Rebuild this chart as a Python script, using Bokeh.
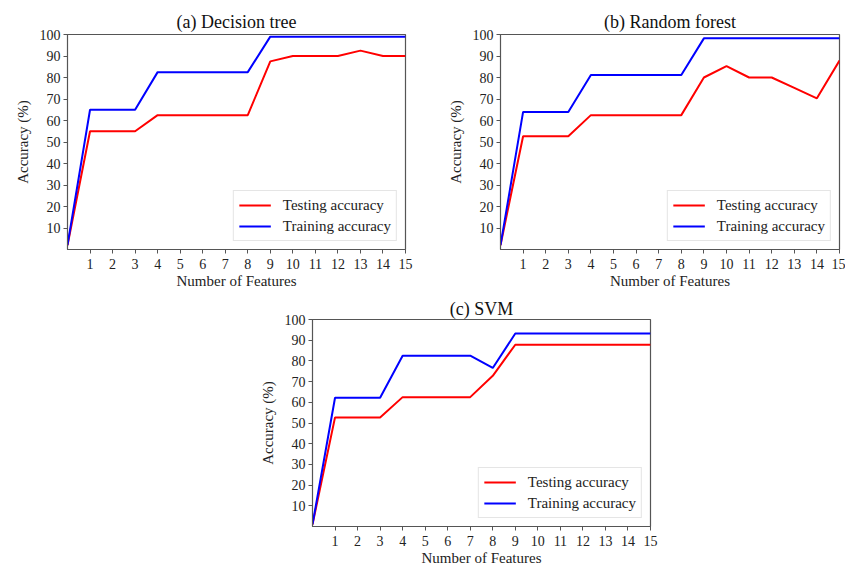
from bokeh.plotting import figure
from bokeh.layouts import column, row, Spacer
from bokeh.models import FixedTicker, Legend, LegendItem
from bokeh.embed import file_html
from bokeh.resources import INLINE

features = list(range(0, 16))

dt_test = [2, 55, 55, 55, 62.5, 62.5, 62.5, 62.5, 62.5, 87.5, 90, 90, 90, 92.5, 90, 90]
dt_train = [2, 65, 65, 65, 82.5, 82.5, 82.5, 82.5, 82.5, 99, 99, 99, 99, 99, 99, 99]

rf_test = [2, 52.7, 52.7, 52.7, 62.5, 62.5, 62.5, 62.5, 62.5, 80, 85.3, 80, 80, 75.2, 70.3, 87.9]
rf_train = [2, 64, 64, 64, 81.2, 81.2, 81.2, 81.2, 81.2, 98.2, 98.2, 98.2, 98.2, 98.2, 98.2, 98.2]

svm_test = [1, 52.7, 52.7, 52.7, 62.5, 62.5, 62.5, 62.5, 72.8, 87.8, 87.8, 87.8, 87.8, 87.8, 87.8, 87.8]
svm_train = [1, 62.2, 62.2, 62.2, 82.5, 82.5, 82.5, 82.5, 76.6, 93.2, 93.2, 93.2, 93.2, 93.2, 93.2, 93.2]

x_ticks = list(range(1, 16))
y_ticks = list(range(10, 101, 10))

titles = ["(a) Decision tree", "(b) Random forest", "(c) SVM"]
series_names = ["Testing accuracy", "Training accuracy"]
x_label = "Number of Features"
y_label = "Accuracy (%)"

FONT = "Liberation Serif"
AXC = "#555555"


def make_panel(title, test, train, width, height, bl, br, bt, bb, standoff):
    p = figure(width=width, height=height, x_range=(0, 15), y_range=(0, 100),
               output_backend="svg", toolbar_location=None, title=title,
               min_border_left=bl, min_border_right=br, min_border_top=bt,
               min_border_bottom=bb)
    p.title.align = "center"
    p.title.text_font = FONT
    p.title.text_font_style = "normal"
    p.title.text_font_size = "18px"
    p.title.text_color = "#111111"
    p.title.standoff = standoff
    p.xgrid.visible = False
    p.ygrid.visible = False
    p.outline_line_color = AXC
    p.outline_line_width = 1.2
    p.background_fill_color = "white"
    p.border_fill_color = "white"
    for ax in (p.xaxis[0], p.yaxis[0]):
        ax.axis_line_color = AXC
        ax.major_tick_line_color = AXC
        ax.minor_tick_line_color = None
        ax.major_tick_out = 4
        ax.major_tick_in = 0
        ax.major_label_text_font = FONT
        ax.major_label_text_font_size = "14px"
        ax.major_label_text_color = "#222222"
        ax.axis_label_text_font = FONT
        ax.axis_label_text_font_size = "15px"
        ax.axis_label_text_font_style = "normal"
        ax.axis_label_text_color = "#222222"
    p.xaxis.ticker = FixedTicker(ticks=x_ticks)
    p.yaxis.ticker = FixedTicker(ticks=y_ticks)
    p.xaxis.axis_label = x_label
    p.yaxis.axis_label = y_label
    p.xaxis.axis_label_standoff = 1
    p.yaxis.axis_label_standoff = 6
    p.xaxis.major_label_standoff = 5
    p.yaxis.major_label_standoff = 3

    r1 = p.line(features, test, line_color="#ff0000", line_width=2)
    r2 = p.line(features, train, line_color="#0000ff", line_width=2)
    leg = Legend(items=[LegendItem(label=series_names[0], renderers=[r1]),
                        LegendItem(label=series_names[1], renderers=[r2])],
                 location="bottom_right")
    leg.label_text_font = FONT
    leg.label_text_font_size = "15px"
    leg.label_text_color = "#222222"
    leg.glyph_width = 32
    leg.glyph_height = 18
    leg.label_height = 18
    leg.label_standoff = 12
    leg.spacing = 3
    leg.padding = 5
    leg.margin = 8
    leg.border_line_color = "#cccccc"
    leg.border_line_width = 1
    leg.background_fill_alpha = 1.0
    p.add_layout(leg, "center")
    return p


pa = make_panel(titles[0], dt_test, dt_train, 420, 295, 67, 15, 34, 44, 5)
pb = make_panel(titles[1], rf_test, rf_train, 425, 295, 80, 6, 32, 46, 5)
pc = make_panel(titles[2], svm_test, svm_train, 415, 275, 62, 15, 22, 44, 2)

layout = column(row(pa, pb), row(Spacer(width=250, height=10), pc))

open("out.html", "w").write(file_html(layout, INLINE))
